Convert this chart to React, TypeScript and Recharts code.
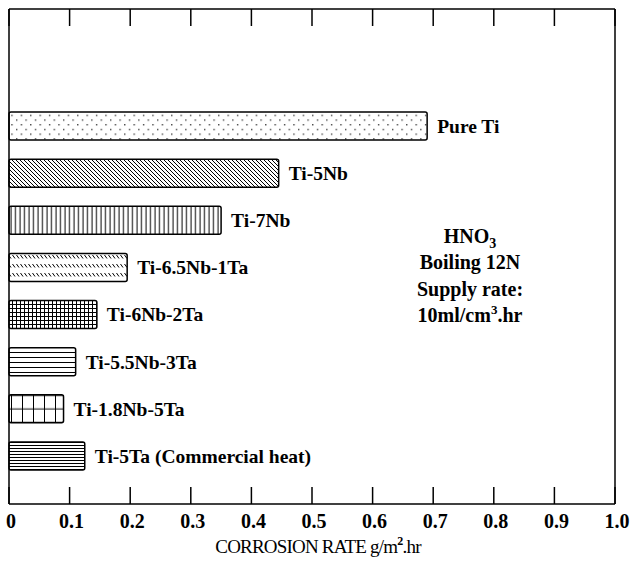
import { Bar, BarChart, Cell, LabelList, ReferenceLine, XAxis, YAxis } from 'recharts'

const alloys = [
  'Pure Ti',
  'Ti-5Nb',
  'Ti-7Nb',
  'Ti-6.5Nb-1Ta',
  'Ti-6Nb-2Ta',
  'Ti-5.5Nb-3Ta',
  'Ti-1.8Nb-5Ta',
  'Ti-5Ta (Commercial heat)',
]
const corrosionRate = [0.69, 0.445, 0.35, 0.195, 0.145, 0.11, 0.09, 0.125]
const rateTicks = [0, 0.1, 0.2, 0.3, 0.4, 0.5, 0.6, 0.7, 0.8, 0.9, 1]
const rateTickLabels = ['0', '0.1', '0.2', '0.3', '0.4', '0.5', '0.6', '0.7', '0.8', '0.9', '1.0']
const patternIds = ['dots', 'diag', 'vert', 'dash', 'fine', 'horiz', 'grid', 'dense']

const FONT = '"Liberation Serif", "Times New Roman", serif'
const INK = '#000'

const rows = alloys.map((name, i) => ({ name, rate: corrosionRate[i] }))

function BottomTick({ x, y, index }: any) {
  return (
    <g>
      <line x1={x} x2={x} y1={y} y2={y - 17} stroke={INK} strokeWidth={1.5} />
      <text x={x + 2} y={y + 24} textAnchor="middle" fontFamily={FONT} fontSize={20} fontWeight="bold" fill={INK}>
        {rateTickLabels[index]}
      </text>
    </g>
  )
}

function TopTick({ x, y }: any) {
  return <line x1={x} x2={x} y1={y} y2={y + 17} stroke={INK} strokeWidth={1.5} />
}

function Patterns() {
  const line = { stroke: INK, strokeWidth: 1 }
  return (
    <defs>
      <pattern id="dots" width="9.4" height="9.4" patternUnits="userSpaceOnUse">
        <rect width="9.4" height="9.4" fill="#fff" />
        <rect x="2" y="2" width="1.2" height="1.2" fill={INK} />
        <rect x="6.7" y="6.7" width="1.2" height="1.2" fill={INK} />
      </pattern>
      <pattern id="diag" width="4" height="4" patternUnits="userSpaceOnUse">
        <rect width="4" height="4" fill="#fff" />
        <path d="M-1,-1 L5,5 M-1,3 L1,5 M3,-1 L5,1" {...line} />
      </pattern>
      <pattern id="vert" width="4.5" height="4" patternUnits="userSpaceOnUse">
        <rect width="4.5" height="4" fill="#fff" />
        <path d="M2,0 L2,4" {...line} />
      </pattern>
      <pattern id="dash" width="4" height="9" patternUnits="userSpaceOnUse">
        <rect width="4" height="9" fill="#fff" />
        <path d="M0.5,3 L3,6.5" {...line} />
      </pattern>
      <pattern id="fine" width="4" height="4" patternUnits="userSpaceOnUse">
        <rect width="4" height="4" fill="#fff" />
        <path d="M0.5,0 L0.5,4 M0,0.5 L4,0.5" {...line} />
      </pattern>
      <pattern id="horiz" width="4" height="5" patternUnits="userSpaceOnUse">
        <rect width="4" height="5" fill="#fff" />
        <path d="M0,2.5 L4,2.5" {...line} />
      </pattern>
      <pattern id="grid" width="11" height="13.4" patternUnits="userSpaceOnUse">
        <rect width="11" height="13.4" fill="#fff" />
        <path d="M0.5,0 L0.5,13.4 M0,7 L11,7" {...line} />
      </pattern>
      <pattern id="dense" width="4" height="3" patternUnits="userSpaceOnUse">
        <rect width="4" height="3" fill="#fff" />
        <path d="M0,1.5 L4,1.5" {...line} />
      </pattern>
    </defs>
  )
}

export default function App() {
  const text = { fontFamily: FONT, fill: INK }
  return (
    <div style={{ position: 'absolute', left: 0, top: 0, background: '#fff' }}>
      <BarChart
        width={630}
        height={573}
        data={rows}
        layout="vertical"
        margin={{ top: 8, right: 15, bottom: 29, left: 8 }}
      >
        <Patterns />
        <XAxis
          type="number"
          dataKey="rate"
          domain={[0, 1]}
          ticks={rateTicks}
          interval={0}
          height={40}
          tickSize={0}
          tickMargin={0}
          tickLine={false}
          tick={<BottomTick />}
          axisLine={{ stroke: INK, strokeWidth: 1.5 }}
        />
        <XAxis
          xAxisId="top"
          orientation="top"
          type="number"
          domain={[0, 1]}
          allowDataOverflow
          ticks={rateTicks}
          interval={0}
          height={1}
          tickSize={0}
          tickMargin={0}
          tickLine={false}
          tick={<TopTick />}
          axisLine={{ stroke: INK, strokeWidth: 1.5 }}
        />
        <YAxis
          type="category"
          dataKey="name"
          width={1}
          tick={false}
          tickLine={false}
          padding={{ top: 93, bottom: 25 }}
          axisLine={{ stroke: INK, strokeWidth: 1.5 }}
        />
        <ReferenceLine x={1} stroke={INK} strokeWidth={1.5} />
        <Bar
          dataKey="rate"
          barSize={28}
          stroke={INK}
          strokeWidth={1.5}
          radius={2}
          isAnimationActive={false}
        >
          {rows.map((r, i) => (
            <Cell key={r.name} fill={`url(#${patternIds[i]})`} />
          ))}
          <LabelList
            dataKey="name"
            position="right"
            offset={10}
            style={{ ...text, fontSize: 19.5, fontWeight: 'bold' }}
          />
        </Bar>
        <text x={470} y={243} textAnchor="middle" fontSize={20} {...text} fontWeight="bold">
          HNO<tspan fontSize={14} dy={5}>3</tspan>
        </text>
        <text x={470} y={269} textAnchor="middle" fontSize={20} {...text} fontWeight="bold">
          Boiling 12N
        </text>
        <text x={470} y={296} textAnchor="middle" fontSize={20} {...text} fontWeight="bold">
          Supply rate:
        </text>
        <text x={470} y={322} textAnchor="middle" fontSize={20} {...text} fontWeight="bold">
          10ml/cm<tspan fontSize={13} dy={-8}>3</tspan>
          <tspan dy={8}>.hr</tspan>
        </text>
        <text x={318} y={553} textAnchor="middle" fontSize={19} letterSpacing={-0.8} {...text}>
          CORROSION RATE g/m<tspan fontSize={12} dy={-8} fontWeight="bold">2</tspan>
          <tspan dy={8}>.hr</tspan>
        </text>
      </BarChart>
    </div>
  )
}
